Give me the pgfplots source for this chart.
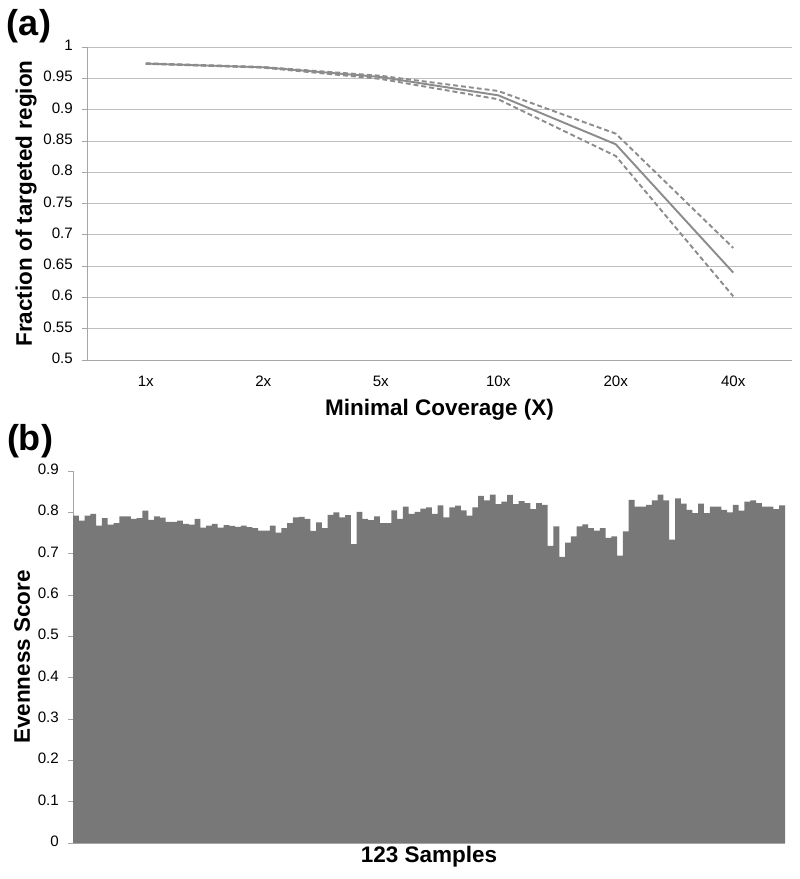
\documentclass[border=0pt]{standalone}
\usepackage{pgfplots}
\pgfplotsset{compat=1.18}
\usepackage{fontspec}
\setmainfont{Liberation Sans}

\definecolor{linec}{RGB}{140,140,140}
\definecolor{barc}{RGB}{120,120,120}
\definecolor{gridc}{RGB}{191,191,191}
\definecolor{axisc}{RGB}{166,166,166}

\begin{document}
\begin{tikzpicture}
\useasboundingbox (0,0) rectangle (16cm,17.58cm);
\pgfplotsset{
  every axis/.append style={
    scale only axis,
    axis lines=left,
    axis line style={draw=axisc,-},
    tick style={draw=axisc, thin},
    tick align=outside,
    major tick length=0.1cm,
    tick label style={font=\fontsize{8.6}{10}\selectfont},
    yticklabel style={xshift=-0.06cm},
    typeset ticklabels with strut,
    label style={font=\fontsize{12.8}{15}\selectfont\bfseries},
    /pgf/number format/assume math mode=true,
  }
}

% (a) coverage curves
\begin{axis}[
  at={(1.74cm,10.38cm)}, anchor=south west,
  width=14.1cm, height=6.26cm,
  xmin=-0.5, xmax=5.5, ymin=0.5, ymax=1,
  xtick={0,1,2,3,4,5}, xticklabels={1x,2x,5x,10x,20x,40x},
  x tick style={draw=none},
  xticklabel style={yshift=-0.05cm},
  ytick={0.5,0.55,0.6,0.65,0.7,0.75,0.8,0.85,0.9,0.95,1},
  yticklabels={0.5,0.55,0.6,0.65,0.7,0.75,0.8,0.85,0.9,0.95,1},
  ymajorgrids, grid style={draw=gridc},
  xlabel={Minimal Coverage (X)},
  ylabel={Fraction of targeted region},
  xlabel style={at={(axis description cs:0.5,-0.16)}, anchor=center},
  ylabel style={at={(axis description cs:-0.0865,0.5)}, anchor=center},
]
  \addplot[linec, line width=1.1pt] coordinates {
    (0,0.9735) (1,0.9676) (2,0.952) (3,0.9228) (4,0.8446) (5,0.6396)};
  \addplot[linec, line width=1.1pt, dash pattern=on 2.8pt off 1.7pt] coordinates {
    (0,0.974) (1,0.968) (2,0.954) (3,0.9297) (4,0.8616) (5,0.679)};
  \addplot[linec, line width=1.1pt, dash pattern=on 2.8pt off 1.7pt] coordinates {
    (0,0.973) (1,0.967) (2,0.949) (3,0.9165) (4,0.8259) (5,0.6017)};
\end{axis}

% (b) evenness per sample
\begin{axis}[
  at={(1.46cm,0.72cm)}, anchor=south west,
  width=14.24cm, height=7.44cm,
  xmin=-0.5, xmax=122.5, ymin=0, ymax=0.9,
  xtick=\empty,
  ytick={0,0.1,0.2,0.3,0.4,0.5,0.6,0.7,0.8,0.9},
  yticklabels={0,0.1,0.2,0.3,0.4,0.5,0.6,0.7,0.8,0.9},
  ybar, bar width=1,
  xlabel={123 Samples},
  ylabel={Evenness Score},
  xlabel style={at={(axis description cs:0.5,-0.038)}, anchor=center},
  ylabel style={at={(axis description cs:-0.0716,0.5)}, anchor=center},
]
  \addplot[fill=barc, draw=none] coordinates {
    (0,0.792) (1,0.780) (2,0.792) (3,0.796) (4,0.768) (5,0.786) (6,0.770) (7,0.774)
    (8,0.790) (9,0.790) (10,0.784) (11,0.786) (12,0.804) (13,0.782) (14,0.790) (15,0.787)
    (16,0.777) (17,0.777) (18,0.780) (19,0.772) (20,0.770) (21,0.784) (22,0.763) (23,0.768)
    (24,0.772) (25,0.763) (26,0.769) (27,0.767) (28,0.765) (29,0.768) (30,0.764) (31,0.762)
    (32,0.756) (33,0.756) (34,0.768) (35,0.751) (36,0.762) (37,0.774) (38,0.788) (39,0.789)
    (40,0.784) (41,0.755) (42,0.776) (43,0.762) (44,0.794) (45,0.800) (46,0.788) (47,0.793)
    (48,0.723) (49,0.801) (50,0.784) (51,0.781) (52,0.790) (53,0.774) (54,0.774) (55,0.805)
    (56,0.784) (57,0.814) (58,0.796) (59,0.801) (60,0.809) (61,0.812) (62,0.796) (63,0.817)
    (64,0.788) (65,0.812) (66,0.816) (67,0.805) (68,0.792) (69,0.812) (70,0.840) (71,0.829)
    (72,0.843) (73,0.820) (74,0.826) (75,0.842) (76,0.820) (77,0.827) (78,0.822) (79,0.808)
    (80,0.822) (81,0.818) (82,0.719) (83,0.766) (84,0.692) (85,0.727) (86,0.742) (87,0.766)
    (88,0.771) (89,0.762) (90,0.756) (91,0.762) (92,0.738) (93,0.742) (94,0.695) (95,0.754)
    (96,0.830) (97,0.814) (98,0.814) (99,0.818) (100,0.829) (101,0.843) (102,0.829) (103,0.734)
    (104,0.834) (105,0.821) (106,0.806) (107,0.798) (108,0.821) (109,0.798) (110,0.814) (111,0.814)
    (112,0.806) (113,0.800) (114,0.818) (115,0.804) (116,0.826) (117,0.829) (118,0.822) (119,0.814)
    (120,0.814) (121,0.808) (122,0.817)};
\end{axis}

\node[font=\fontsize{20.5}{24}\selectfont\bfseries] at (0.58cm,17.06cm) {(a)};
\node[font=\fontsize{20.5}{24}\selectfont\bfseries] at (0.60cm,8.76cm) {(b)};
\end{tikzpicture}
\end{document}
